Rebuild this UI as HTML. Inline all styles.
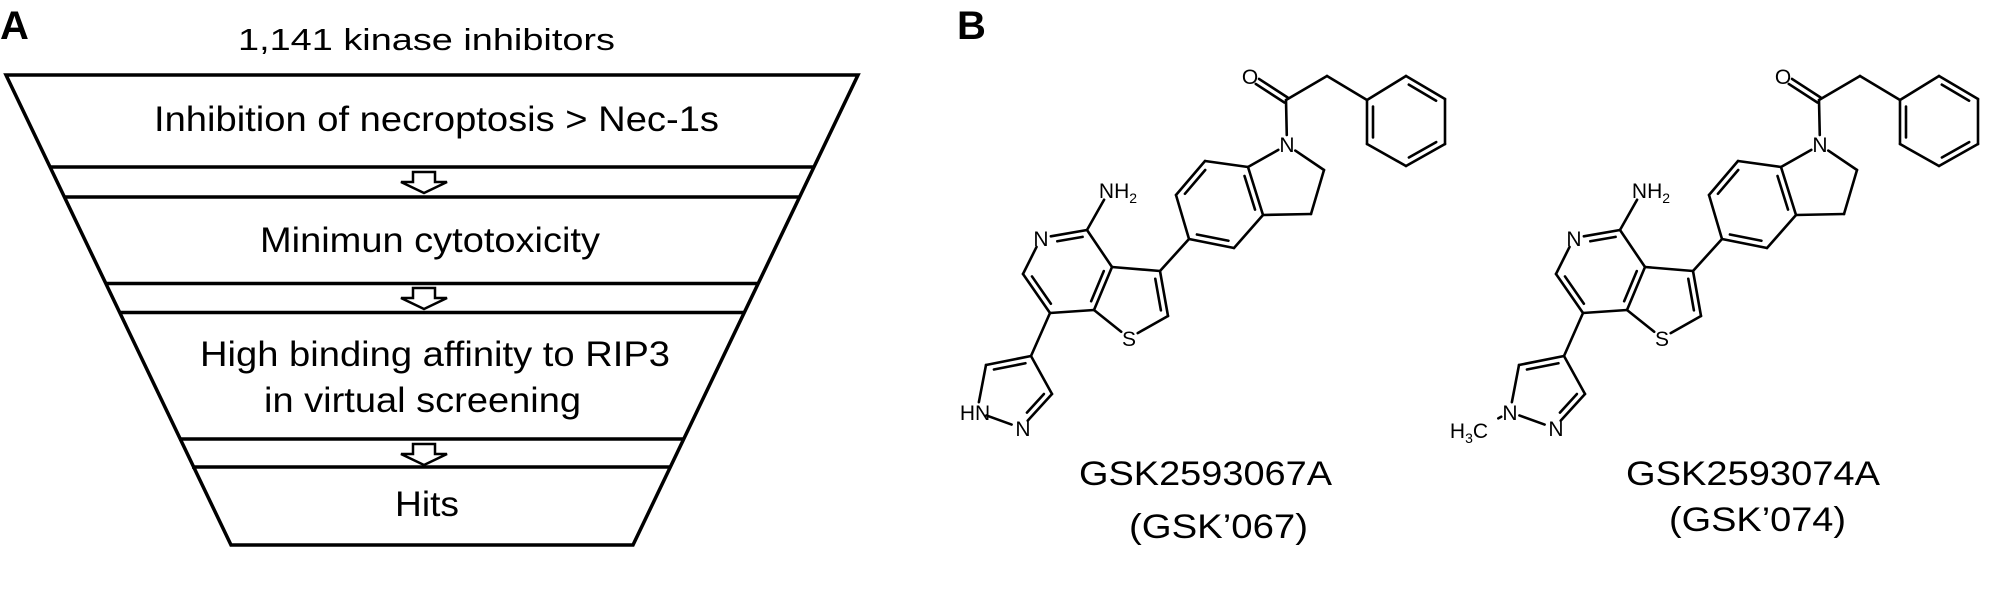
<!DOCTYPE html>
<html><head><meta charset="utf-8">
<style>
html,body{margin:0;padding:0;background:#fff;}
svg{display:block;}
text{font-family:"Liberation Sans",Arial,sans-serif;fill:#000;}
</style></head>
<body>
<svg id="s" width="1995" height="599" viewBox="0 0 1995 599" xmlns="http://www.w3.org/2000/svg">
<rect width="1995" height="599" fill="#fff"/>
<!-- Panel A -->
<text x="0" y="39" font-size="40" font-weight="bold">A</text>
<text x="238" y="50" font-size="31" textLength="377" lengthAdjust="spacingAndGlyphs">1,141 kinase inhibitors</text>
<g stroke="#000" stroke-width="3.5" fill="none">
<polygon points="6,75 858,75 633,545 231,545"/>
<line x1="50" y1="167" x2="814" y2="167"/>
<line x1="64" y1="197" x2="800" y2="197"/>
<line x1="105" y1="283.5" x2="759" y2="283.5"/>
<line x1="119" y1="312.5" x2="745" y2="312.5"/>
<line x1="179" y1="439" x2="683" y2="439"/>
<line x1="192" y1="467" x2="670" y2="467"/>
</g>
<g stroke="#000" stroke-width="2.5" fill="#fff">
<polygon points="413,172 435,172 435,182 447,182 424,193 401,182 413,182"/>
<polygon points="413,288 435,288 435,298 447,298 424,309 401,298 413,298"/>
<polygon points="413,444 435,444 435,454 447,454 424,465 401,454 413,454"/>
</g>
<text x="154" y="131" font-size="35" textLength="565" lengthAdjust="spacingAndGlyphs">Inhibition of necroptosis &gt; Nec-1s</text>
<text x="260" y="252" font-size="35" textLength="340" lengthAdjust="spacingAndGlyphs">Minimun cytotoxicity</text>
<text x="200" y="366" font-size="35" textLength="470" lengthAdjust="spacingAndGlyphs">High binding affinity to RIP3</text>
<text x="264" y="412" font-size="35" textLength="317" lengthAdjust="spacingAndGlyphs">in virtual screening</text>
<text x="395" y="516" font-size="35" textLength="64" lengthAdjust="spacingAndGlyphs">Hits</text>

<!-- Panel B -->
<text x="957" y="39" font-size="40" font-weight="bold">B</text>
<g id="m1"></g>
<g id="m2" transform="translate(533,0)"></g>

<g font-size="21" text-anchor="middle">
<text x="1250" y="84">O</text>
<text x="1287" y="152">N</text>
<text x="1129" y="346">S</text>
<text x="1041" y="246">N</text>
<text x="1118" y="198">NH<tspan font-size="14" dy="5">2</tspan></text>
<text x="975" y="420">HN</text>
<text x="1023" y="436">N</text>
</g>
<g font-size="21" text-anchor="middle" transform="translate(533,0)">
<text x="1250" y="84">O</text>
<text x="1287" y="152">N</text>
<text x="1129" y="346">S</text>
<text x="1041" y="246">N</text>
<text x="1118" y="198">NH<tspan font-size="14" dy="5">2</tspan></text>
<text x="977" y="420">N</text>
<text x="1023" y="436">N</text>
<text x="936" y="438">H<tspan font-size="14" dy="5">3</tspan><tspan dy="-5">C</tspan></text>
</g>

<text x="1079" y="485" font-size="34" textLength="253" lengthAdjust="spacingAndGlyphs">GSK2593067A</text>
<text x="1129" y="538" font-size="34" textLength="179" lengthAdjust="spacingAndGlyphs">(GSK’067)</text>
<text x="1626" y="485" font-size="34" textLength="254" lengthAdjust="spacingAndGlyphs">GSK2593074A</text>
<text x="1669" y="531" font-size="34" textLength="177" lengthAdjust="spacingAndGlyphs">(GSK’074)</text>
</svg>
<script>
(function(){
var P={O:[1249,76],C1:[1286,100],CH2:[1327,76],P1:[1367,100],P2:[1406,76],P3:[1445,99],P4:[1445,144],P5:[1406,166],P6:[1367,144],
N:[1287,145],Ca:[1324,170],Cb:[1311,214],C3a:[1263,215],C7a:[1248,167],C7:[1205,161],C6:[1176,195],C5:[1189,239],C4:[1234,248],
T3:[1160,271],T2:[1168,316],S:[1129,338],T7a:[1094,310],T3a:[1112,267],Py4:[1087,230],PyN:[1041,238],Py6:[1023,274],Py7:[1050,313],
NH:[1109,191],Pz4:[1031,356],Pz5:[986,365],Pz1:[977,412],Pz2:[1021,428],Pz3:[1052,394],Me:[953,425]};
var lab={O:10,N:10,S:10,PyN:10,NH:10,Pz1:10,Pz2:10,Me:14};
var single=[["C1","CH2"],["CH2","P1"],["P1","P2"],["P2","P3"],["P3","P4"],["P4","P5"],["P5","P6"],["P6","P1"],
["C1","N"],["N","Ca"],["Ca","Cb"],["Cb","C3a"],["C3a","C7a"],["C7a","N"],["C7a","C7"],["C7","C6"],["C6","C5"],["C5","C4"],["C4","C3a"],
["C5","T3"],["T3","T2"],["T2","S"],["S","T7a"],["T7a","T3a"],["T3a","T3"],["T3a","Py4"],["Py4","PyN"],["PyN","Py6"],["Py6","Py7"],["Py7","T7a"],
["Py4","NH"],["Py7","Pz4"],["Pz4","Pz5"],["Pz5","Pz1"],["Pz1","Pz2"],["Pz2","Pz3"],["Pz3","Pz4"]];
var inner=[["P2","P3",[1406,121]],["P6","P1",[1406,121]],["P4","P5",[1406,121]],
["C3a","C7a",[1211,204]],["C7","C6",[1211,204]],["C5","C4",[1211,204]],
["T3","T2",[1133,300]],["T7a","T3a",[1066,270]],["Py4","PyN",[1066,270]],["Py6","Py7",[1066,270]],
["Pz4","Pz5",[1013,391]],["Pz2","Pz3",[1013,391]]];
var ns="http://www.w3.org/2000/svg";
function ln(g,a,b){var l=document.createElementNS(ns,"line");l.setAttribute("x1",a[0]);l.setAttribute("y1",a[1]);l.setAttribute("x2",b[0]);l.setAttribute("y2",b[1]);l.setAttribute("stroke","#000");l.setAttribute("stroke-width","2.6");l.setAttribute("stroke-linecap","round");g.appendChild(l);}
function trim(a,b,ka,kb){var dx=b[0]-a[0],dy=b[1]-a[1],L=Math.hypot(dx,dy),ux=dx/L,uy=dy/L;
return [[a[0]+ux*(lab[ka]||0),a[1]+uy*(lab[ka]||0)],[b[0]-ux*(lab[kb]||0),b[1]-uy*(lab[kb]||0)]];}
function draw(g,methyl){
single.forEach(function(s){var t=trim(P[s[0]],P[s[1]],s[0],s[1]);ln(g,t[0],t[1]);});
if(methyl){var t=trim(P.Pz1,P.Me,"Pz1","Me");ln(g,t[0],t[1]);}
inner.forEach(function(s){var a=P[s[0]],b=P[s[1]],c=s[2];var t=trim(a,b,s[0],s[1]);a=t[0];b=t[1];
var dx=b[0]-a[0],dy=b[1]-a[1],L=Math.hypot(dx,dy),nx=-dy/L,ny=dx/L;var mx=(a[0]+b[0])/2,my=(a[1]+b[1])/2;
if((c[0]-mx)*nx+(c[1]-my)*ny<0){nx=-nx;ny=-ny;}var o=6,sh=0.15;
ln(g,[a[0]+dx*sh+nx*o,a[1]+dy*sh+ny*o],[b[0]-dx*sh+nx*o,b[1]-dy*sh+ny*o]);});
var a=P.C1,b=P.O,t=trim(a,b,"C1","O");var dx=t[1][0]-t[0][0],dy=t[1][1]-t[0][1],L=Math.hypot(dx,dy),nx=-dy/L*3,ny=dx/L*3;
ln(g,[t[0][0]+nx,t[0][1]+ny],[t[1][0]+nx,t[1][1]+ny]);ln(g,[t[0][0]-nx,t[0][1]-ny],[t[1][0]-nx,t[1][1]-ny]);
}
draw(document.getElementById("m1"),false);
draw(document.getElementById("m2"),true);
})();
</script>
</body></html>
